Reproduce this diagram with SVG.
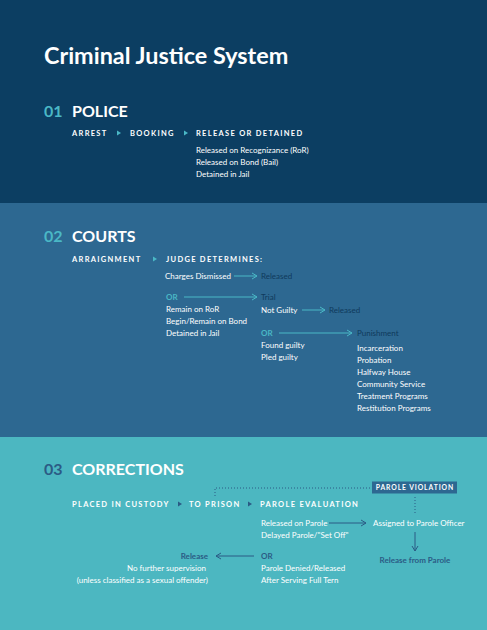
<svg xmlns="http://www.w3.org/2000/svg" width="487" height="630" viewBox="0 0 487 630">
<defs>
<style>
text{font-family:Lato,"Open Sans","DejaVu Sans",sans-serif;}
.title{font-size:23.4px;font-weight:700;fill:#ffffff;}
.num{font-size:16px;font-weight:700;}
.sec{font-size:16px;font-weight:700;fill:#ffffff;}
.step{font-size:7.5px;font-weight:700;fill:#ffffff;letter-spacing:1.3px;}
.tag{font-size:6.8px;font-weight:700;fill:#ffffff;letter-spacing:0.9px;}
.body{font-size:8px;fill:#ffffff;}
.dark2{font-size:8px;fill:#0f3a5c;}
.dark3{font-size:8px;fill:#2b5b85;}
.teal{fill:#4ab8c6;}
.ln2{stroke:#4ab8c6;stroke-width:1;fill:none;}
.ln3{stroke:#2b5b85;stroke-width:1;fill:none;}
.dot{stroke:#2b5b85;stroke-width:1;stroke-dasharray:1 2;fill:none;}
</style>
<marker id="ah2" viewBox="0 0 8 8" refX="7" refY="4" markerWidth="8" markerHeight="8" markerUnits="userSpaceOnUse" orient="auto">
<path d="M2,1 L7,4 L2,7" fill="none" stroke="#4ab8c6" stroke-width="1"/>
</marker>
<marker id="ah3" viewBox="0 0 8 8" refX="7" refY="4" markerWidth="8" markerHeight="8" markerUnits="userSpaceOnUse" orient="auto">
<path d="M2,1 L7,4 L2,7" fill="none" stroke="#2b5b85" stroke-width="1"/>
</marker>
<path id="tri" d="M0,-2.5 L4,0 L0,2.5 Z"/>
</defs>

<rect x="0" y="0" width="487" height="203" fill="#0c3e62"/>
<rect x="0" y="203" width="487" height="234" fill="#2d6891"/>
<rect x="0" y="437" width="487" height="193" fill="#4cb7c1"/>

<text class="title" x="44" y="64">Criminal Justice System</text>

<g id="police">
<text class="num teal" x="44" y="117">01</text>
<text class="sec" x="72" y="117">POLICE</text>
<text class="step" x="72" y="136">ARREST</text>
<use href="#tri" x="117" y="133" fill="#4ab8c6"/>
<text class="step" x="130" y="136">BOOKING</text>
<use href="#tri" x="184" y="133" fill="#4ab8c6"/>
<text class="step" x="196" y="136">RELEASE OR DETAINED</text>
<text class="body" x="196" y="153">Released on Recognizance (RoR)</text>
<text class="body" x="196" y="165">Released on Bond (Bail)</text>
<text class="body" x="196" y="177">Detained in Jail</text>
</g>

<g id="courts">
<text class="num teal" x="44" y="242">02</text>
<text class="sec" x="72" y="242">COURTS</text>
<text class="step" x="72" y="262">ARRAIGNMENT</text>
<use href="#tri" x="153" y="259" fill="#4ab8c6"/>
<text class="step" x="166" y="262">JUDGE DETERMINES:</text>
<text class="body" x="165" y="279">Charges Dismissed</text>
<text class="dark2" x="261" y="279">Released</text>
<text class="body teal" x="166" y="300" font-weight="700">OR</text>
<text class="dark2" x="261" y="300">Trial</text>
<text class="body" x="166" y="312">Remain on RoR</text>
<text class="body" x="166" y="324">Begin/Remain on Bond</text>
<text class="body" x="166" y="336">Detained in Jail</text>
<text class="body" x="261" y="313">Not Guilty</text>
<text class="dark2" x="329" y="313">Released</text>
<text class="body teal" x="261" y="336" font-weight="700">OR</text>
<text class="dark2" x="357" y="336">Punishment</text>
<text class="body" x="261" y="348">Found guilty</text>
<text class="body" x="261" y="360">Pled guilty</text>
<text class="body" x="357" y="351">Incarceration</text>
<text class="body" x="357" y="363">Probation</text>
<text class="body" x="357" y="375">Halfway House</text>
<text class="body" x="357" y="387">Community Service</text>
<text class="body" x="357" y="399">Treatment Programs</text>
<text class="body" x="357" y="411">Restitution Programs</text>
</g>

<g id="corrections">
<text class="num" x="44" y="475" fill="#2b5b85">03</text>
<text class="sec" x="72" y="475">CORRECTIONS</text>
<g id="parole-violation">
<rect x="372" y="481.5" width="85" height="12" fill="#2d6891"/>
<text class="tag" x="414.9" y="490.2" text-anchor="middle">PAROLE VIOLATION</text>
</g>
<text class="step" x="72" y="507">PLACED IN CUSTODY</text>
<use href="#tri" x="178" y="504" fill="#2b5b85"/>
<text class="step" x="189" y="507">TO PRISON</text>
<use href="#tri" x="248" y="504" fill="#2b5b85"/>
<text class="step" x="260" y="507">PAROLE EVALUATION</text>
<text class="body" x="261" y="526">Released on Parole</text>
<text class="body" x="373" y="526">Assigned to Parole Officer</text>
<text class="body" x="261" y="538">Delayed Parole/"Set Off"</text>
<text class="dark3" x="415" y="563" text-anchor="middle" font-weight="700">Release from Parole</text>
<text class="dark3" x="261" y="559" font-weight="700" font-size="8.5px">OR</text>
<text class="body" x="261" y="571">Parole Denied/Released</text>
<text class="body" x="261" y="583">After Serving Full Tern</text>
<text class="dark3" x="208" y="559" text-anchor="end" font-weight="700">Release</text>
<text class="body" x="206" y="571" text-anchor="end">No further supervision</text>
<text class="body" x="208" y="583" text-anchor="end">(unless classified as a sexual offender)</text>
</g>

<g id="connectors">
<line class="ln2" x1="234" y1="276" x2="257" y2="276" marker-end="url(#ah2)"/>
<line class="ln2" x1="184" y1="297" x2="257" y2="297" marker-end="url(#ah2)"/>
<line class="ln2" x1="302" y1="310" x2="325" y2="310" marker-end="url(#ah2)"/>
<line class="ln2" x1="279" y1="333" x2="352" y2="333" marker-end="url(#ah2)"/>
<path class="dot" d="M215,496 L215,488 L371,488"/>
<line class="dot" x1="415" y1="497" x2="415" y2="513"/>
<line class="ln3" x1="329" y1="523" x2="366" y2="523" marker-end="url(#ah3)"/>
<line class="ln3" x1="415" y1="532" x2="415" y2="551" marker-end="url(#ah3)"/>
<line class="ln3" x1="254" y1="556" x2="216" y2="556" marker-end="url(#ah3)"/>
</g>
</svg>
